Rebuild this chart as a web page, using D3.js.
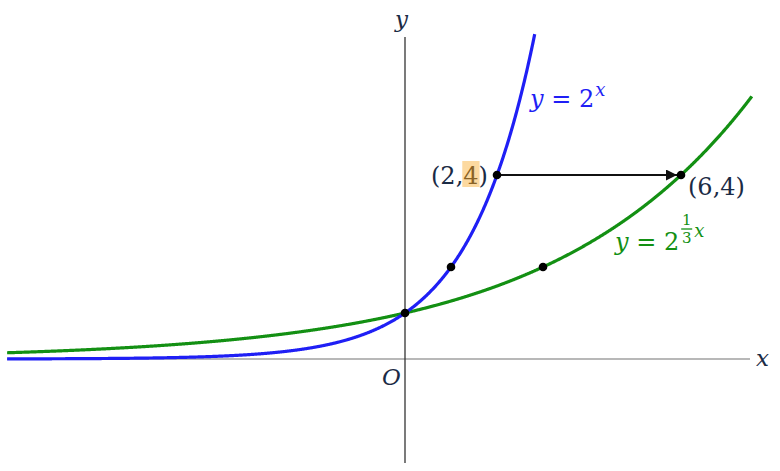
<!DOCTYPE html>
<html><head><meta charset="utf-8">
<script src="https://cdn.jsdelivr.net/npm/d3@7"></script>
<style>body{margin:0;background:#fff}svg{display:block}</style>
</head><body>
<svg id="c" width="780" height="471"></svg>
<script>
const xDomain = [-8.65, 7.55];
const yDomain = [-2.26, 7.05];
const blueX = d3.range(-8.65, 2.83, 0.01);
const greenX = d3.range(-8.65, 7.55, 0.01);
const bluePoints = [[0,1],[1,2],[2,4]];
const greenPoints = [[3,2],[6,4]];
const arrowSeg = [[2,4],[6,4]];

const svg = d3.select("#c");
const x = d3.scaleLinear().domain([0,1]).range([405,451]);
const y = d3.scaleLinear().domain([0,1]).range([359,313]);
const navy = "#1b2b45", blue = "#1f1ff5", green = "#139013";
const serif = "'DejaVu Serif', 'Liberation Serif', serif";

// axes
svg.append("line").attr("x1", x(xDomain[0])).attr("x2", x(7.5)).attr("y1", y(0)).attr("y2", y(0))
  .attr("stroke", "#a0a0a0").attr("stroke-width", 1.3);
svg.append("line").attr("x1", x(0)).attr("x2", x(0)).attr("y1", y(7.0)).attr("y2", y(-2.26))
  .attr("stroke", "#333").attr("stroke-width", 1.3);

svg.append("text").attr("x", 756).attr("y", 366).attr("font-family", serif)
  .attr("font-style","italic").attr("font-size", 23).attr("fill", navy).text("x");
svg.append("text").attr("x", 395).attr("y", 27).attr("font-family", serif)
  .attr("font-style","italic").attr("font-size", 23).attr("fill", navy).text("y");
svg.append("text").attr("x", 382).attr("y", 385).attr("font-family", serif)
  .attr("font-style","italic").attr("font-size", 23).attr("fill", navy).text("O");

const line = d3.line().x(d => x(d[0])).y(d => y(d[1]));
svg.append("path").datum(greenX.map(t => [t, Math.pow(2, t/3)])).attr("d", line)
  .attr("fill","none").attr("stroke", green).attr("stroke-width", 3.2);
svg.append("path").datum(blueX.map(t => [t, Math.pow(2, t)])).attr("d", line)
  .attr("fill","none").attr("stroke", blue).attr("stroke-width", 3.2);

// arrow
svg.append("defs").append("marker").attr("id","ah").attr("viewBox","0 0 10 10")
  .attr("refX", 10).attr("refY", 5).attr("markerWidth", 15).attr("markerHeight", 11)
  .attr("markerUnits","userSpaceOnUse").attr("orient","auto")
  .append("path").attr("d","M0,0 L10,5 L0,10 Z").attr("fill","#111");
svg.append("line").attr("x1", x(arrowSeg[0][0])).attr("y1", y(arrowSeg[0][1]))
  .attr("x2", x(arrowSeg[1][0]) - 4).attr("y2", y(arrowSeg[1][1]))
  .attr("stroke","#111").attr("stroke-width", 1.8).attr("marker-end","url(#ah)");

// points
svg.selectAll("circle.p").data(bluePoints.concat(greenPoints)).join("circle")
  .attr("cx", d => x(d[0])).attr("cy", d => y(d[1])).attr("r", 4.3).attr("fill", "#000");

// label (2,4) with highlighted 4
const g1 = svg.append("g");
const rect = g1.append("rect").attr("fill", "#fcd9a0");
const t1 = g1.append("text").attr("x", 431).attr("y", 184).attr("font-family", serif)
  .attr("font-size", 24).attr("fill", navy);
t1.append("tspan").text("(2,");
t1.append("tspan").attr("fill", "#8a6326").text("4");
t1.append("tspan").text(")");
{
  const n = t1.node();
  const s = n.getStartPositionOfChar(3).x, e = n.getEndPositionOfChar(3).x;
  rect.attr("x", s - 1).attr("y", 161).attr("width", e - s + 2).attr("height", 26);
}

svg.append("text").attr("x", 688).attr("y", 195).attr("font-family", serif)
  .attr("font-size", 24).attr("fill", navy).text("(6,4)");

// y = 2^x
const t2 = svg.append("text").attr("x", 530).attr("y", 107).attr("font-family", serif)
  .attr("font-size", 24).attr("fill", blue);
t2.append("tspan").attr("font-style","italic").text("y");
t2.append("tspan").text(" = 2");
t2.append("tspan").attr("font-style","italic").attr("font-size", 18).attr("dy", -11).attr("dx", 1).text("x");

// y = 2^{1/3 x}
const t3 = svg.append("text").attr("x", 615).attr("y", 250).attr("font-family", serif)
  .attr("font-size", 24).attr("fill", green);
t3.append("tspan").attr("font-style","italic").text("y");
t3.append("tspan").text(" = 2");
const fx = 615 + t3.node().getComputedTextLength() + 2;
svg.append("text").attr("x", fx+5.5).attr("y", 225).attr("text-anchor","middle").attr("font-family", serif)
  .attr("font-size", 15).attr("fill", green).text("1");
svg.append("line").attr("x1", fx).attr("x2", fx+11).attr("y1", 229).attr("y2", 229).attr("stroke", green).attr("stroke-width", 1.3);
svg.append("text").attr("x", fx+5.5).attr("y", 243).attr("text-anchor","middle").attr("font-family", serif)
  .attr("font-size", 15).attr("fill", green).text("3");
svg.append("text").attr("x", fx+13).attr("y", 237).attr("font-family", serif).attr("font-style","italic")
  .attr("font-size", 18).attr("fill", green).text("x");
</script>
</body></html>
